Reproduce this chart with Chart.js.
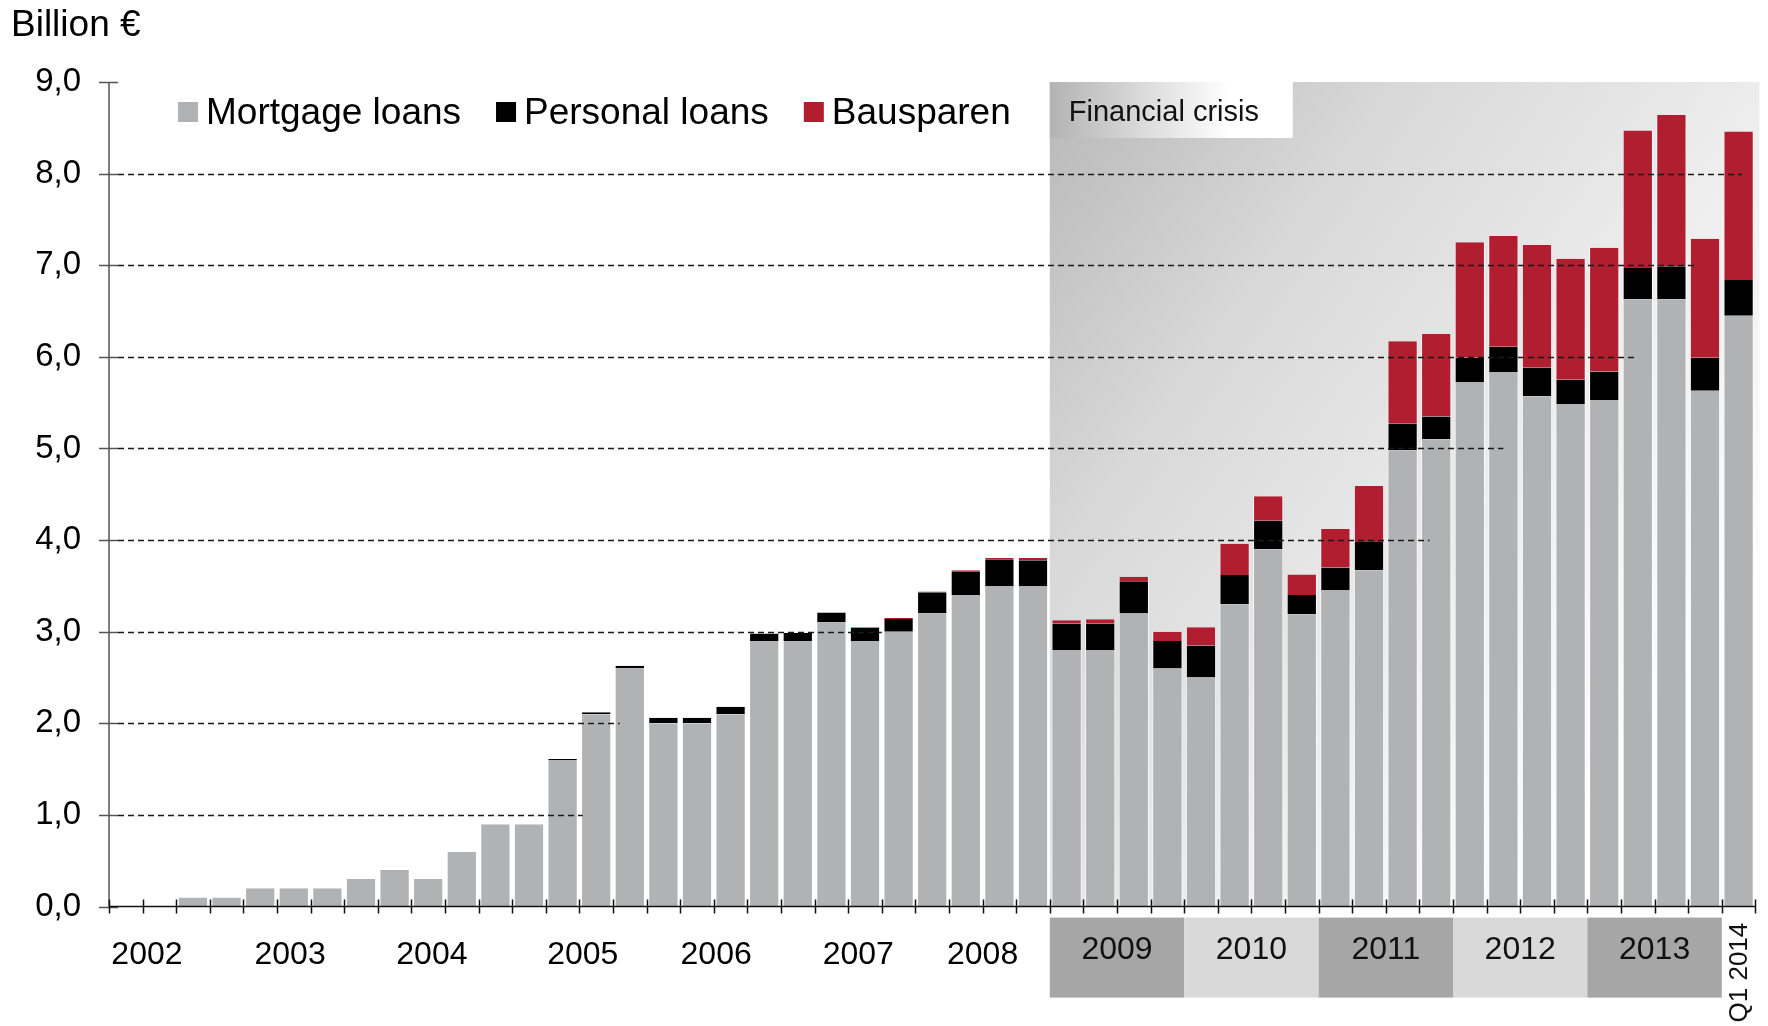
<!DOCTYPE html>
<html>
<head>
<meta charset="utf-8">
<script src="https://cdn.jsdelivr.net/npm/chart.js@4.4.1/dist/chart.umd.min.js"></script>
<style>
  html, body { margin: 0; padding: 0; background: #ffffff; }
  #wrap { width: 1768px; height: 1026px; position: relative; }
</style>
</head>
<body>
<div id="wrap"><canvas id="chart" width="1768" height="1026"></canvas></div>
<script>
// Quarterly new lending volume, billion €
const quarters = [
  'Q1 2002', 'Q2 2002', 'Q3 2002', 'Q4 2002',
  'Q1 2003', 'Q2 2003', 'Q3 2003', 'Q4 2003',
  'Q1 2004', 'Q2 2004', 'Q3 2004', 'Q4 2004',
  'Q1 2005', 'Q2 2005', 'Q3 2005', 'Q4 2005',
  'Q1 2006', 'Q2 2006', 'Q3 2006', 'Q4 2006',
  'Q1 2007', 'Q2 2007', 'Q3 2007', 'Q4 2007',
  'Q1 2008', 'Q2 2008', 'Q3 2008', 'Q4 2008',
  'Q1 2009', 'Q2 2009', 'Q3 2009', 'Q4 2009',
  'Q1 2010', 'Q2 2010', 'Q3 2010', 'Q4 2010',
  'Q1 2011', 'Q2 2011', 'Q3 2011', 'Q4 2011',
  'Q1 2012', 'Q2 2012', 'Q3 2012', 'Q4 2012',
  'Q1 2013', 'Q2 2013', 'Q3 2013', 'Q4 2013',
  'Q1 2014'
];

const mortgageLoans = [
  0, 0, 0.1, 0.1,
  0.2, 0.2, 0.2, 0.3,
  0.4, 0.3, 0.6, 0.9,
  0.9, 1.6, 2.1, 2.6,
  2.0, 2.0, 2.1, 2.9,
  2.9, 3.1, 2.9, 3.0,
  3.2, 3.4, 3.5, 3.5,
  2.8, 2.8, 3.2, 2.6,
  2.5, 3.3, 3.9, 3.19,
  3.45, 3.67, 4.98, 5.1,
  5.72, 5.83, 5.57, 5.48,
  5.53, 6.63, 6.63, 5.63,
  6.45
];

const personalLoans = [
  0, 0, 0, 0,
  0, 0, 0, 0,
  0, 0, 0, 0,
  0, 0.01, 0.02, 0.03,
  0.06, 0.06, 0.08, 0.08,
  0.09, 0.11, 0.14, 0.14,
  0.23, 0.26, 0.29, 0.28,
  0.29, 0.29, 0.35, 0.3,
  0.35, 0.32, 0.31, 0.21,
  0.25, 0.31, 0.29, 0.25,
  0.27, 0.28, 0.31, 0.27,
  0.31, 0.34, 0.36, 0.36,
  0.39
];

const bausparen = [
  0, 0, 0, 0,
  0, 0, 0, 0,
  0, 0, 0, 0,
  0, 0, 0, 0,
  0, 0, 0, 0,
  0, 0, 0.01, 0.01,
  0.01, 0.01, 0.015, 0.025,
  0.035, 0.045, 0.05, 0.1,
  0.2, 0.34, 0.27, 0.225,
  0.42, 0.61, 0.9, 0.9,
  1.26, 1.21, 1.34, 1.32,
  1.35, 1.5, 1.65, 1.3,
  1.62
];

const plainYears = ['2002', '2003', '2004', '2005', '2006', '2007', '2008'];
const boxedYears = ['2009', '2010', '2011', '2012', '2013'];
const lastPeriodLabel = 'Q1 2014';
const yTicks = [0, 1, 2, 3, 4, 5, 6, 7, 8, 9];

const FONT = "'Liberation Sans', Arial, Helvetica, sans-serif";

// Axes, dashed guide lines, legend, period labels and the crisis shading
const decor = {
  id: 'decor',
  beforeDatasetsDraw(chart, args, o) {
    const { ctx, chartArea: a, scales: { x, y } } = chart;
    const pitch = x.getPixelForValue(1) - x.getPixelForValue(0);
    const edge = i => x.getPixelForValue(i) - pitch / 2;
    const x0 = edge(quarters.indexOf('Q1 2009'));
    const x1 = a.right + o.shadeOverhang;
    const yTop = y.getPixelForValue(9);
    const yBot = a.bottom;

    ctx.save();
    const g = ctx.createLinearGradient(x0, yTop, x0 + 700, yTop + 500);
    g.addColorStop(0, '#b8b8b8');
    g.addColorStop(0.33, '#d8d8d8');
    g.addColorStop(0.56, '#e5e5e5');
    g.addColorStop(0.7, '#eeeeee');
    g.addColorStop(1, '#fdfdfd');
    ctx.fillStyle = g;
    ctx.fillRect(x0, yTop, x1 - x0, yBot - yTop);

    // caption box
    const bw = o.boxWidth, bh = o.boxHeight;
    const g2 = ctx.createLinearGradient(x0, 0, x0 + bw, 0);
    g2.addColorStop(0, '#b3b3b3');
    g2.addColorStop(0.74, '#ffffff');
    g2.addColorStop(1, '#ffffff');
    ctx.fillStyle = g2;
    ctx.fillRect(x0, yTop, bw, bh);
    ctx.fillStyle = '#111111';
    ctx.font = '29px ' + FONT;
    ctx.textAlign = 'left';
    ctx.textBaseline = 'alphabetic';
    ctx.fillText('Financial crisis', x0 + 19, yTop + 39);
    ctx.restore();
  },
  afterDatasetsDraw(chart, args, o) {
    const { ctx, chartArea: a, scales: { x, y } } = chart;
    const pitch = x.getPixelForValue(1) - x.getPixelForValue(0);
    const edge = i => x.getPixelForValue(i) - pitch / 2;
    const at = u => edge(0) + u * pitch;

    ctx.save();
    // dashed guide lines, each with its own length
    ctx.strokeStyle = '#1a1a1a';
    ctx.lineWidth = 1.3;
    ctx.setLineDash([6, 4]);
    Object.keys(o.guideEnds).forEach(k => {
      const py = Math.round(y.getPixelForValue(+k)) + 0.5;
      ctx.beginPath();
      ctx.moveTo(a.left + 9, py);
      ctx.lineTo(at(o.guideEnds[k]), py);
      ctx.stroke();
    });
    ctx.setLineDash([]);

    // y axis with crossing ticks
    ctx.strokeStyle = '#555555';
    ctx.lineWidth = 1.5;
    ctx.beginPath();
    ctx.moveTo(a.left, y.getPixelForValue(9));
    ctx.lineTo(a.left, a.bottom);
    yTicks.forEach(v => {
      const py = Math.round(y.getPixelForValue(v)) + 0.5;
      ctx.moveTo(a.left - 10, py);
      ctx.lineTo(a.left + 9, py);
    });
    ctx.stroke();

    // x axis with crossing ticks at quarter boundaries
    ctx.strokeStyle = '#111111';
    ctx.beginPath();
    ctx.moveTo(a.left, a.bottom);
    ctx.lineTo(at(quarters.length), a.bottom);
    for (let i = 0; i <= quarters.length; i++) {
      const px = Math.round(edge(i)) + 0.5;
      ctx.moveTo(px, a.bottom - 7);
      ctx.lineTo(px, a.bottom + 7);
    }
    ctx.stroke();

    // year labels below the axis
    ctx.fillStyle = '#000000';
    ctx.font = '32px ' + FONT;
    ctx.textAlign = 'center';
    ctx.textBaseline = 'alphabetic';
    plainYears.forEach((yr, k) => {
      ctx.fillText(yr, at(o.yearSlots[k]), a.bottom + 57);
    });

    // shaded year boxes
    boxedYears.forEach((yr, k) => {
      const s = quarters.indexOf('Q1 ' + yr);
      const l = edge(s), r = edge(s + 4);
      ctx.fillStyle = k % 2 === 0 ? '#a6a6a6' : '#d9d9d9';
      ctx.fillRect(l, a.bottom + 11, r - l, 80);
      ctx.fillStyle = '#111111';
      ctx.fillText(yr, (l + r) / 2, a.bottom + 52);
    });

    // last quarter, written upwards
    const li = quarters.indexOf(lastPeriodLabel);
    ctx.save();
    ctx.translate(x.getPixelForValue(li), a.bottom + 66);
    ctx.rotate(-Math.PI / 2);
    ctx.font = '26px ' + FONT;
    ctx.textAlign = 'center';
    ctx.textBaseline = 'middle';
    ctx.fillStyle = '#111111';
    ctx.fillText(lastPeriodLabel, 0, 1);
    ctx.restore();

    // legend
    ctx.font = '37px ' + FONT;
    ctx.textAlign = 'left';
    ctx.textBaseline = 'alphabetic';
    let lx = o.legendX;
    chart.data.datasets.forEach(ds => {
      ctx.fillStyle = ds.backgroundColor;
      ctx.fillRect(lx, o.legendY - 10, 20, 20);
      ctx.fillStyle = '#000000';
      ctx.fillText(ds.label, lx + 28, o.legendY + 12);
      lx += 28 + ctx.measureText(ds.label).width + 35;
    });

    // unit caption
    ctx.font = '37px ' + FONT;
    ctx.fillText('Billion €', 11, 36);
    ctx.restore();
  }
};

new Chart(document.getElementById('chart'), {
  type: 'bar',
  data: {
    labels: quarters,
    datasets: [
      { label: 'Mortgage loans', data: mortgageLoans, backgroundColor: '#b1b2b4' },
      { label: 'Personal loans', data: personalLoans, backgroundColor: '#000000' },
      { label: 'Bausparen', data: bausparen, backgroundColor: '#b11e30' }
    ]
  },
  options: {
    responsive: false,
    animation: false,
    devicePixelRatio: 1,
    layout: { padding: { left: 0, top: 82, right: 12.6, bottom: 119.4 } },
    datasets: {
      bar: {
        categoryPercentage: 1,
        barPercentage: 0.9,
        borderWidth: { left: 1, right: 1, top: 0, bottom: 0 },
        borderColor: 'rgba(255,255,255,0.7)',
        borderSkipped: false
      }
    },
    plugins: {
      legend: { display: false },
      tooltip: { enabled: false },
      decor: {
        shadeOverhang: 4,
        boxWidth: 243,
        boxHeight: 56,
        guideEnds: { 1: 14.1, 2: 15.2, 3: 23.0, 4: 39.3, 5: 41.5, 6: 45.5, 7: 47.2, 8: 48.6 },
        yearSlots: [1.13, 5.39, 9.61, 14.1, 18.07, 22.3, 26.0],
        legendX: 178,
        legendY: 112
      }
    },
    scales: {
      x: { stacked: true, display: false },
      y: {
        stacked: true,
        min: 0,
        max: 9,
        afterFit(scale) { scale.width = 109; },
        afterBuildTicks(scale) { scale.ticks = yTicks.map(v => ({ value: v })); },
        ticks: {
          color: '#000000',
          padding: 28,
          font: { family: FONT, size: 33 },
          callback: v => v.toFixed(1).replace('.', ',')
        },
        grid: { display: false, drawTicks: false },
        border: { display: false }
      }
    }
  },
  plugins: [decor]
});
</script>
</body>
</html>
